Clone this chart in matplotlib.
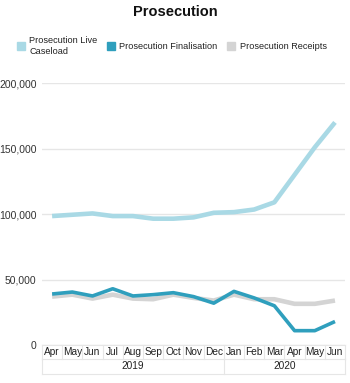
import matplotlib.pyplot as plt
from matplotlib.lines import Line2D
from matplotlib.ticker import FuncFormatter

plt.rcParams['font.family'] = ['Liberation Sans', 'DejaVu Sans']

months = ["Apr", "May", "Jun", "Jul", "Aug", "Sep", "Oct", "Nov", "Dec",
          "Jan", "Feb", "Mar", "Apr", "May", "Jun"]
years = ["2019", "2020"]
year_counts = [9, 6]

live_caseload = [98500, 99500, 100500, 98500, 98500, 96500, 96500, 97500, 101000,
                 101500, 103500, 109000, 130000, 151000, 170000]
finalisation = [39000, 40500, 37500, 43000, 37500, 38500, 40000, 37000, 32000,
                41000, 36000, 30000, 11000, 11000, 18000]
receipts = [37000, 38500, 35500, 38500, 35500, 35000, 38500, 36000, 34000,
            38500, 35000, 35000, 31500, 31500, 34000]

c_live = "#a9d9e5"
c_fin = "#2f9fbd"
c_rec = "#d4d4d4"
grid_c = "#e6e6e6"

fig = plt.figure(figsize=(3.5, 3.83), dpi=100)
ax = fig.add_axes([0.12, 0.099, 0.866, 0.684])

x = list(range(len(months)))
ax.plot(x, live_caseload, color=c_live, lw=3.3, solid_capstyle="butt", zorder=3)
ax.plot(x, receipts, color=c_rec, lw=3.3, solid_capstyle="butt", zorder=3)
ax.plot(x, finalisation, color=c_fin, lw=2.6, solid_capstyle="butt", zorder=4)

ax.set_xlim(-0.5, len(months) - 0.5)
ax.set_ylim(0, 200000)
ax.set_yticks([0, 50000, 100000, 150000, 200000])
ax.yaxis.set_major_formatter(FuncFormatter(lambda v, p: f"{int(v):,}"))
ax.tick_params(axis="y", length=0, labelsize=7.5, colors="#333333", pad=4)
ax.set_xticks([])
ax.grid(axis="y", color=grid_c, lw=1)
for s in ax.spines.values():
    s.set_visible(False)

# category table below the axes
row1_top, row1_bot, row2_bot = 0.0, -0.052, -0.11
tr = ax.get_xaxis_transform()
line_kw = dict(color=grid_c, lw=0.8, transform=tr, clip_on=False)
ax.plot([-0.5, len(months) - 0.5], [row1_top, row1_top], **line_kw)
ax.plot([-0.5, len(months) - 0.5], [row1_bot, row1_bot], **line_kw)
ax.plot([-0.5, len(months) - 0.5], [row2_bot, row2_bot], **line_kw)
for i in range(len(months) + 1):
    ax.plot([i - 0.5, i - 0.5], [row1_top, row1_bot], **line_kw)
for i, m in enumerate(months):
    ax.text(i, (row1_top + row1_bot) / 2, m, transform=tr, ha="center", va="center",
            fontsize=7.3, color="#222222")
start = 0
for y, n in zip(years, year_counts):
    ax.plot([start - 0.5, start - 0.5], [row1_bot, row2_bot], **line_kw)
    ax.text(start + (n - 1) / 2, (row1_bot + row2_bot) / 2, y, transform=tr,
            ha="center", va="center", fontsize=7.3, color="#222222")
    start += n
ax.plot([start - 0.5, start - 0.5], [row1_bot, row2_bot], **line_kw)

fig.text(0.5, 0.968, "Prosecution", ha="center", va="center",
         fontsize=10.5, fontweight="bold", color="#111111")

handles = [Line2D([], [], marker="s", ls="", color=c, markersize=5.5) for c in (c_live, c_fin, c_rec)]
labels = ["Prosecution Live\nCaseload", "Prosecution Finalisation", "Prosecution Receipts"]
fig.legend(handles, labels, loc="center", bbox_to_anchor=(0.49, 0.88), ncol=3,
           frameon=False, fontsize=6.6, handletextpad=0.4, columnspacing=1.0,
           handlelength=1.0, labelcolor="#222222")

fig.savefig("out.png", dpi=100)
